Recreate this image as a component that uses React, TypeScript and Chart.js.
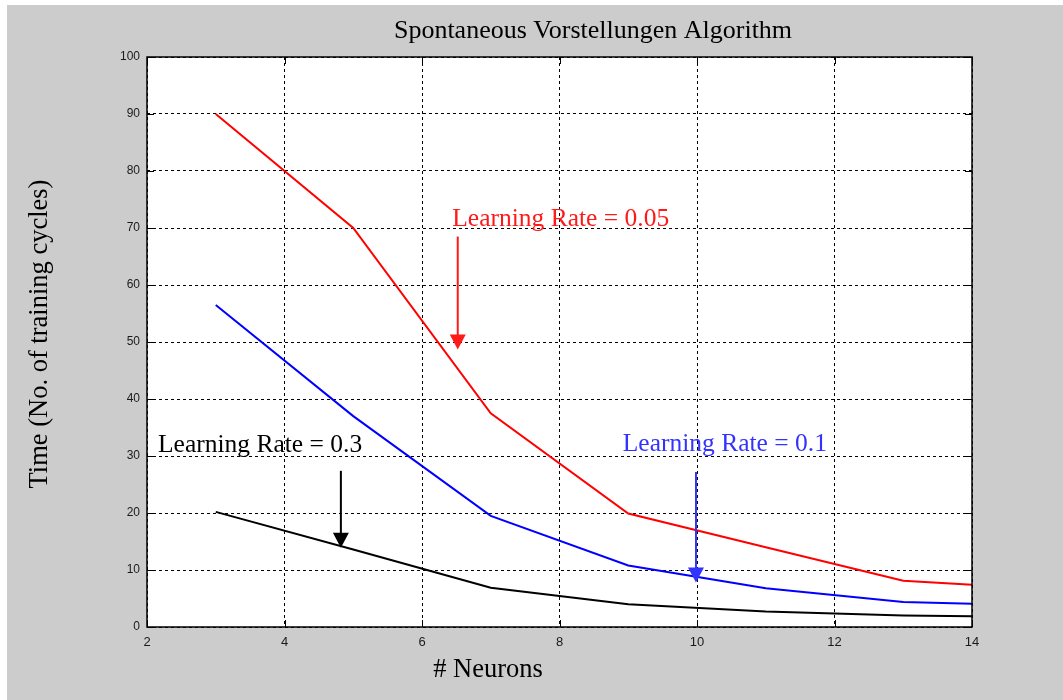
import React, { useEffect, useRef } from "react";
import { Chart, registerables } from "chart.js";

Chart.register(...registerables);

// ---- data ----
const neurons = [3, 5, 7, 9, 11, 13, 14];
const rate005 = [90, 70, 37.5, 19.9, 14, 8.1, 7.4];
const rate01 = [56.5, 37, 19.5, 10.8, 6.8, 4.4, 4.1];
const rate03 = [20.2, 13.6, 6.9, 4.0, 2.7, 2.0, 1.9];

const xTicks = [2, 4, 6, 8, 10, 12, 14];
const yTicks = [0, 10, 20, 30, 40, 50, 60, 70, 80, 90, 100];

const titleText = "Spontaneous Vorstellungen Algorithm";
const xLabel = "# Neurons";
const yLabel = "Time (No. of training cycles)";

// annotation labels anchored in data coordinates
const annLabels = ["Learning Rate = 0.05", "Learning Rate = 0.1", "Learning Rate = 0.3"];
const annTextX = [6.44, 8.92, 2.16];
const annTextY = [70.4, 30.8, 30.7];
const annArrowX = [6.52, 9.985, 4.82];
const annArrowFrom = [68.5, 27.2, 27.4];
const annArrowTo = [48.7, 7.8, 13.9];
const annColors = ["#ff1a1a", "#3333ff", "#000000"];

const SERIF = "'Liberation Serif', 'Times New Roman', serif";
const SANS = "'Liberation Sans', Arial, sans-serif";

const framePlugin = {
  id: "matlabFrame",
  beforeDraw(chart: any) {
    const { ctx, chartArea } = chart;
    ctx.save();
    ctx.fillStyle = "#ffffff";
    ctx.fillRect(0, 0, chart.width, chart.height);
    ctx.fillStyle = "#cccccc";
    ctx.fillRect(7, 5, chart.width - 7, chart.height - 5);
    ctx.fillStyle = "#ffffff";
    ctx.fillRect(chartArea.left, chartArea.top, chartArea.right - chartArea.left, chartArea.bottom - chartArea.top);
    ctx.restore();
  },
  afterDatasetsDraw(chart: any) {
    const { ctx, scales } = chart;
    const xs = scales.x;
    const ys = scales.y;
    ctx.save();
    for (let i = 0; i < annLabels.length; i++) {
      const c = annColors[i];
      ctx.fillStyle = c;
      ctx.strokeStyle = c;
      ctx.font = `25.5px ${SERIF}`;
      ctx.textBaseline = "alphabetic";
      ctx.textAlign = "left";
      ctx.fillText(annLabels[i], xs.getPixelForValue(annTextX[i]), ys.getPixelForValue(annTextY[i]));
      const ax = xs.getPixelForValue(annArrowX[i]);
      const y0 = ys.getPixelForValue(annArrowFrom[i]);
      const y1 = ys.getPixelForValue(annArrowTo[i]);
      const headH = 15;
      const headW = 8;
      ctx.lineWidth = 2;
      ctx.beginPath();
      ctx.moveTo(ax, y0);
      ctx.lineTo(ax, y1 - headH + 1);
      ctx.stroke();
      ctx.beginPath();
      ctx.moveTo(ax - headW, y1 - headH);
      ctx.lineTo(ax + headW, y1 - headH);
      ctx.lineTo(ax, y1);
      ctx.closePath();
      ctx.fill();
    }
    ctx.restore();
  },
  afterDraw(chart: any) {
    const { ctx, chartArea, scales } = chart;
    const { left, right, top, bottom } = chartArea;
    ctx.save();
    ctx.strokeStyle = "#000";
    ctx.lineWidth = 1.5;
    ctx.strokeRect(left, top, right - left, bottom - top);
    // inward tick marks
    ctx.lineWidth = 1;
    const tl = 7;
    ctx.beginPath();
    for (const v of xTicks) {
      const px = Math.round(scales.x.getPixelForValue(v)) + 0.5;
      ctx.moveTo(px, bottom);
      ctx.lineTo(px, bottom - tl);
      ctx.moveTo(px, top);
      ctx.lineTo(px, top + tl);
    }
    for (const v of yTicks) {
      const py = Math.round(scales.y.getPixelForValue(v)) + 0.5;
      ctx.moveTo(left, py);
      ctx.lineTo(left + tl, py);
      ctx.moveTo(right, py);
      ctx.lineTo(right - tl, py);
    }
    ctx.stroke();

    // title and axis labels
    ctx.fillStyle = "#000";
    ctx.font = `26px ${SERIF}`;
    ctx.textAlign = "center";
    ctx.textBaseline = "alphabetic";
    ctx.fillText(titleText, 593, 38);
    ctx.font = `26.5px ${SERIF}`;
    ctx.fillText(xLabel, 488, 677);
    ctx.save();
    ctx.translate(47, 334);
    ctx.rotate(-Math.PI / 2);
    ctx.fillText(yLabel, 0, 0);
    ctx.restore();
    ctx.restore();
  },
};

export default function App() {
  const ref = useRef<HTMLCanvasElement>(null);
  useEffect(() => {
    if (!ref.current) return;
    const chart = new Chart(ref.current, {
      type: "line",
      data: {
        datasets: [
          {
            label: "Learning Rate = 0.05",
            data: neurons.map((x, i) => ({ x, y: rate005[i] })),
            borderColor: "#ff0000",
            borderWidth: 2,
            pointRadius: 0,
            tension: 0,
          },
          {
            label: "Learning Rate = 0.1",
            data: neurons.map((x, i) => ({ x, y: rate01[i] })),
            borderColor: "#0000ff",
            borderWidth: 2,
            pointRadius: 0,
            tension: 0,
          },
          {
            label: "Learning Rate = 0.3",
            data: neurons.map((x, i) => ({ x, y: rate03[i] })),
            borderColor: "#000000",
            borderWidth: 2,
            pointRadius: 0,
            tension: 0,
          },
        ],
      },
      options: {
        responsive: false,
        animation: false,
        layout: { padding: { left: 107, right: 91, top: 57, bottom: 0 } },
        plugins: {
          legend: { display: false },
          title: { display: false },
          tooltip: { enabled: false },
        },
        scales: {
          x: {
            type: "linear",
            min: 2,
            max: 14,
            afterBuildTicks: (s: any) => {
              s.ticks = xTicks.map((v) => ({ value: v }));
            },
            afterFit: (s: any) => {
              s.height = 73;
            },
            grid: { color: "#000", lineWidth: 1, drawTicks: false },
            border: { display: false, dash: [3, 3] },
            ticks: {
              padding: 8,
              color: "#1a1a1a",
              font: { family: SANS, size: 13 },
              maxRotation: 0,
            },
          },
          y: {
            type: "linear",
            min: 0,
            max: 100,
            afterBuildTicks: (s: any) => {
              s.ticks = yTicks.map((v) => ({ value: v }));
            },
            afterFit: (s: any) => {
              s.width = 40;
            },
            grid: { color: "#000", lineWidth: 1, drawTicks: false },
            border: { display: false, dash: [3, 3] },
            ticks: {
              padding: 7,
              color: "#1a1a1a",
              font: { family: SANS, size: 12 },
            },
          },
        },
      },
      plugins: [framePlugin],
    } as any);
    return () => chart.destroy();
  }, []);
  return (
    <div style={{ position: "absolute", left: 0, top: 0, width: 1063, height: 700 }}>
      <canvas ref={ref} width={1063} height={700} style={{ display: "block" }} />
    </div>
  );
}
